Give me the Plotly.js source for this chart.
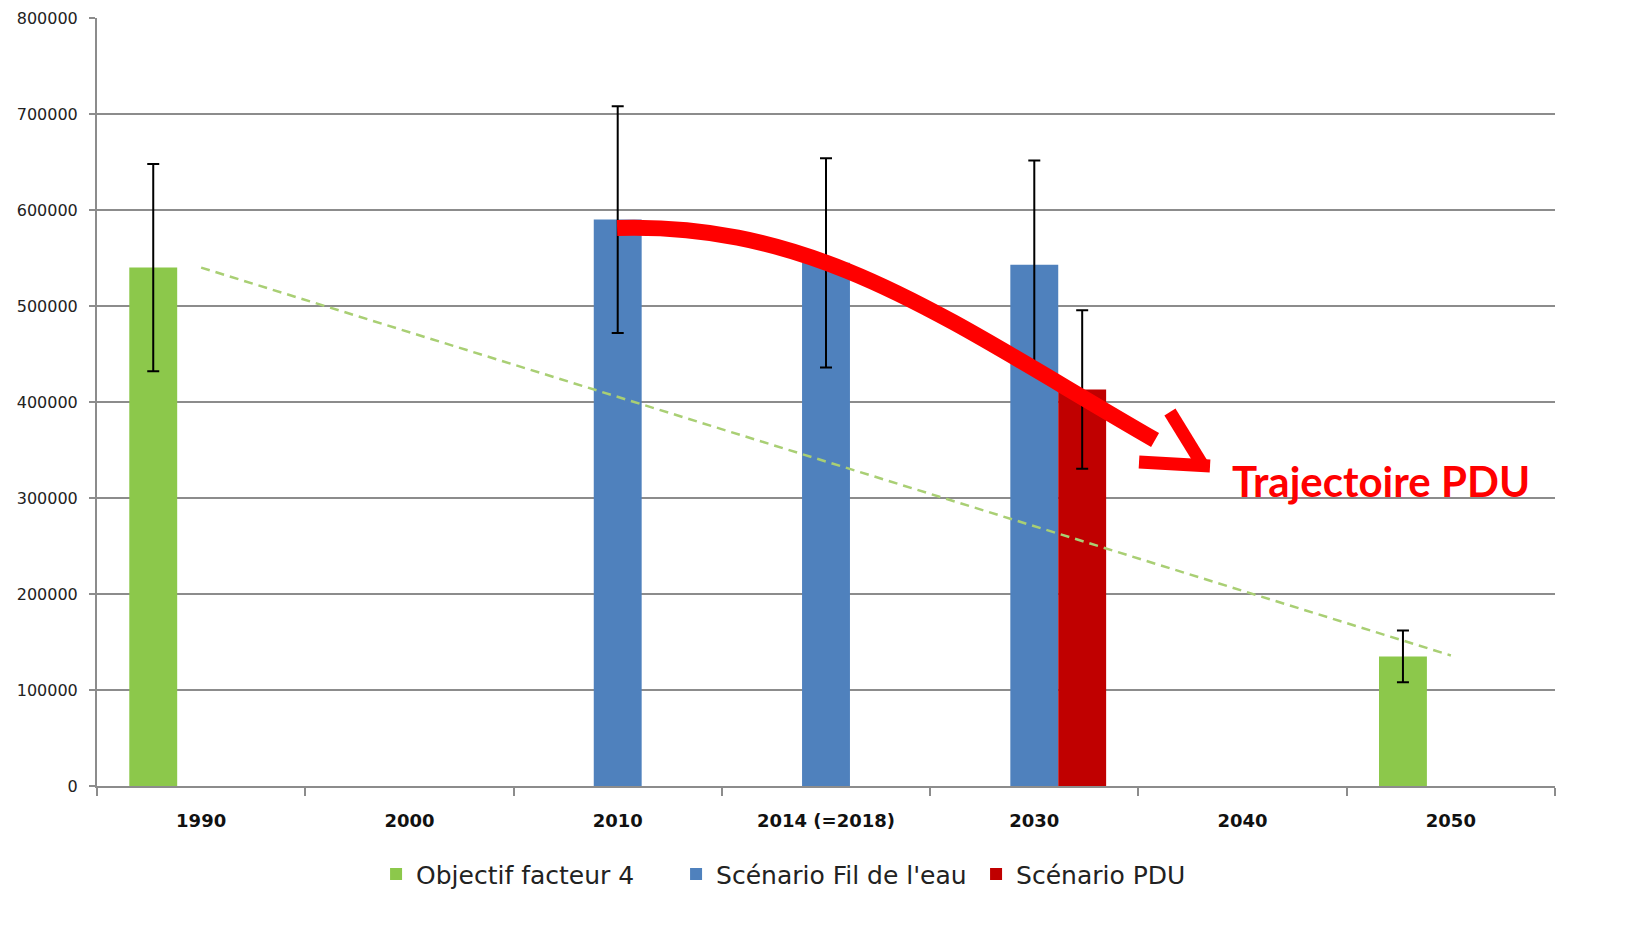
<!DOCTYPE html>
<html>
<head>
<meta charset="utf-8">
<script src="https://cdn.plot.ly/plotly-3.0.1.min.js"></script>
<style>html,body{margin:0;padding:0;background:#fff;}#chart{width:1633px;height:937px;}</style>
</head>
<body>
<div id="chart"></div>
<script>
const categories = ['1990', '2000', '2010', '2014 (=2018)', '2030', '2040', '2050'];
const objectifFacteur4 = [540000, null, null, null, null, null, 135000];
const scenarioFilEau = [null, null, 590000, 545000, 543000, null, null];
const scenarioPDU = [null, null, null, null, 413000, null, null];
const trendX = ['1990', '2050'];
const trendY = [540000, 136000];
const yTickVals = [0, 100000, 200000, 300000, 400000, 500000, 600000, 700000, 800000];
const yTickText = ['0', '100000', '200000', '300000', '400000', '500000', '600000', '700000', '800000'];
const errorPercent = 20;

const W = 1633, H = 937;
const M = {l: 97, r: 78, t: 18, b: 151};
const pw = W - M.l - M.r, ph = H - M.t - M.b;
const px = x => ((x - M.l) / pw).toFixed(4);
const py = y => ((H - M.b - y) / ph).toFixed(4);

const errStyle = {type: 'percent', value: errorPercent, visible: true, color: '#000', thickness: 2, width: 6};

const traces = [
  {type: 'bar', name: 'Objectif facteur 4', x: categories, y: objectifFacteur4,
   marker: {color: '#8CC84B'}, error_y: errStyle},
  {type: 'bar', name: "Scénario Fil de l'eau", x: categories, y: scenarioFilEau,
   marker: {color: '#4F81BD'}, error_y: errStyle},
  {type: 'bar', name: 'Scénario PDU', x: categories, y: scenarioPDU,
   marker: {color: '#C00000'}, error_y: errStyle},
  {type: 'scatter', mode: 'lines', x: trendX, y: trendY, showlegend: false,
   line: {color: '#A9CF74', width: 2.5, dash: '9px,6px'}, hoverinfo: 'skip'}
];

const curve = `M ${px(617)},${py(228)} C ${px(820)},${py(222)} ${px(950)},${py(322)} ${px(1155)},${py(440)}`;

const layout = {
  width: W, height: H,
  margin: M,
  paper_bgcolor: '#fff', plot_bgcolor: '#fff',
  barmode: 'group', bargap: 0.31, bargroupgap: 0,
  showlegend: true,
  legend: {orientation: 'h', x: px(376), xanchor: 'left', y: -0.115, yanchor: 'middle',
           font: {family: 'DejaVu Sans', size: 25, color: '#222'}, traceorder: 'normal',
           entrywidth: 255, entrywidthmode: 'pixels'},
  xaxis: {type: 'category', categoryorder: 'array', categoryarray: categories,
          showline: true, linecolor: '#8c8c8c', linewidth: 2,
          ticks: 'outside', tickson: 'boundaries', ticklen: 8, tickcolor: '#8c8c8c', tickwidth: 2,
          showgrid: false, zeroline: false,
          tickfont: {family: 'DejaVu Sans', size: 18, color: '#111', weight: 'bold'},
          ticklabelstandoff: 17},
  yaxis: {range: [0, 800000], tickvals: yTickVals, ticktext: yTickText,
          showline: true, linecolor: '#8c8c8c', linewidth: 2,
          ticks: 'outside', ticklen: 6, tickcolor: '#8c8c8c', tickwidth: 2,
          showgrid: true, gridcolor: '#8c8c8c', gridwidth: 2, zeroline: false,
          tickfont: {family: 'DejaVu Sans', size: 16, color: '#222'},
          ticklabelstandoff: 8},
  shapes: [
    {type: 'path', xref: 'paper', yref: 'paper', path: curve,
     line: {color: '#FF0000', width: 16}, fillcolor: 'rgba(0,0,0,0)'},
    {type: 'line', xref: 'paper', yref: 'paper', x0: px(1170), y0: py(412), x1: px(1203), y1: py(466),
     line: {color: '#FF0000', width: 13}},
    {type: 'line', xref: 'paper', yref: 'paper', x0: px(1139), y0: py(462), x1: px(1210), y1: py(466),
     line: {color: '#FF0000', width: 13}}
  ],
  annotations: [
    {xref: 'paper', yref: 'paper', x: px(1230), y: py(481), xanchor: 'left', yanchor: 'middle',
     text: 'Trajectoire PDU', showarrow: false,
     font: {family: 'Lato', size: 42, color: '#FF0000', weight: 'bold'}}
  ]
};

Plotly.newPlot('chart', traces, layout, {displayModeBar: false, staticPlot: true});
</script>
</body>
</html>
